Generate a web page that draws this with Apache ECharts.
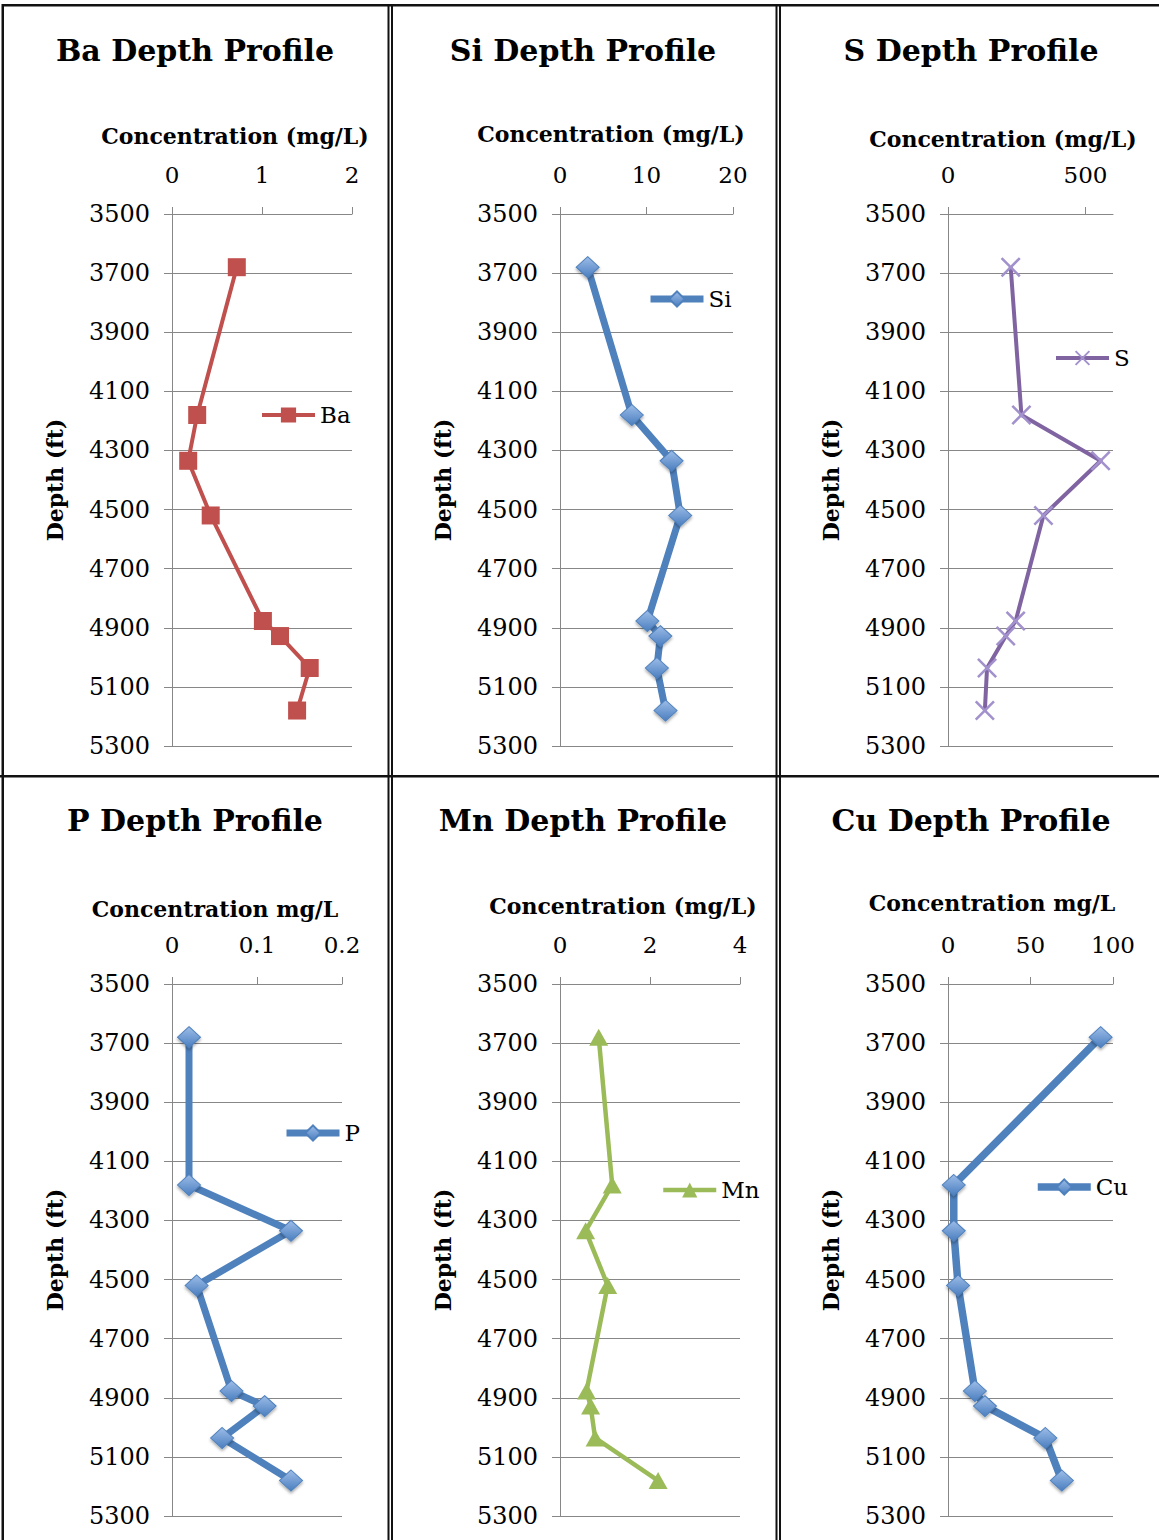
<!DOCTYPE html>
<html>
<head>
<meta charset="utf-8">
<title>Depth Profiles</title>
<script src="https://cdn.jsdelivr.net/npm/echarts@6/dist/echarts.min.js"></script>
<style>
  html, body { margin: 0; padding: 0; background: #ffffff; }
  #chart { width: 1159px; height: 1540px; }
</style>
</head>
<body>
<div id="chart"></div>
<script>
// Sample depths (ft), shared by every element profile
const depthFt = [3680, 4180, 4335, 4520, 4877, 4928, 5036, 5180];

// Concentrations at each depth
const baValues = [0.72, 0.28, 0.18, 0.43, 1.01, 1.20, 1.53, 1.39];
const siValues = [3.2, 8.3, 12.9, 13.9, 10.1, 11.6, 11.2, 12.2];
const sValues  = [228, 267, 555, 347, 246, 210, 142, 134];
const pValues  = [0.020, 0.020, 0.140, 0.029, 0.070, 0.109, 0.059, 0.140];
const mnValues = [0.86, 1.16, 0.57, 1.06, 0.59, 0.68, 0.78, 2.18];
const cuValues = [92.5, 3.5, 3.5, 6.1, 16.3, 22.4, 59, 69];

// Axis labelling
const depthTicks = { min: 3500, max: 5300, interval: 200 };
const chartTitles = ['Ba Depth Profile', 'Si Depth Profile', 'S Depth Profile',
                     'P Depth Profile', 'Mn Depth Profile', 'Cu Depth Profile'];
const unitLabels = ['Concentration (mg/L)', 'Concentration (mg/L)', 'Concentration (mg/L)',
                    'Concentration mg/L', 'Concentration (mg/L)', 'Concentration mg/L'];
const depthLabel = 'Depth (ft)';

const SERIF = '"DejaVu Serif", "Liberation Serif", serif';
const GRID_GRAY = '#878787';

const diamondFill = {
  type: 'linear', x: 0, y: 0, x2: 0, y2: 1,
  colorStops: [{ offset: 0, color: '#9DBDE8' }, { offset: 1, color: '#4A7EBF' }]
};
const crossPath = 'path://M0,0.9 L0.9,0 L10,9.1 L9.1,10 Z M9.1,0 L10,0.9 L0.9,10 L0,9.1 Z';

// One entry per panel: series, axis range and drawing style
const panels = [
  { name: 'Ba', values: baValues, max: 2, interval: 1,
    color: '#C0504D', lineWidth: 4, symbol: 'rect', symbolSize: 18,
    itemStyle: { color: '#C0504D' } },
  { name: 'Si', values: siValues, max: 20, interval: 10,
    color: '#4F81BD', lineWidth: 7, symbol: 'diamond', symbolSize: [23, 21],
    itemStyle: { color: diamondFill, borderColor: '#4F81BD', borderWidth: 1,
                 shadowBlur: 3, shadowColor: 'rgba(0,0,0,0.35)', shadowOffsetY: 2 } },
  { name: 'S', values: sValues, max: 600, interval: 500, ticks: [0, 500],
    color: '#8064A2', lineWidth: 4, symbol: crossPath, symbolSize: 20,
    itemStyle: { color: '#A291CC' } },
  { name: 'P', values: pValues, max: 0.2, interval: 0.1,
    color: '#4F81BD', lineWidth: 7, symbol: 'diamond', symbolSize: [23, 21],
    itemStyle: { color: diamondFill, borderColor: '#4F81BD', borderWidth: 1,
                 shadowBlur: 3, shadowColor: 'rgba(0,0,0,0.35)', shadowOffsetY: 2 } },
  { name: 'Mn', values: mnValues, max: 4, interval: 2,
    color: '#9BBB59', lineWidth: 4.5, symbol: 'triangle', symbolSize: [19, 17],
    itemStyle: { color: '#9BBB59' } },
  { name: 'Cu', values: cuValues, max: 100, interval: 50,
    color: '#4F81BD', lineWidth: 7.5, symbol: 'diamond', symbolSize: [23, 21],
    itemStyle: { color: diamondFill, borderColor: '#4F81BD', borderWidth: 1,
                 shadowBlur: 3, shadowColor: 'rgba(0,0,0,0.35)', shadowOffsetY: 2 } }
];

// Page placement of each panel's pieces
const layout = [
  { grid: [172, 214, 180], title: [195, 50],  unit: [235, 136], yName: [55, 480],   legend: [260, 415] },
  { grid: [560, 214, 173], title: [583, 50],  unit: [611, 134], yName: [443, 480],  legend: [647, 299] },
  { grid: [948, 214, 165], title: [971, 50],  unit: [1003, 139], yName: [831, 480], legend: [1054, 358] },
  { grid: [172, 984, 170], title: [195, 820], unit: [215, 909], yName: [55, 1250],  legend: [283, 1133] },
  { grid: [560, 984, 180], title: [583, 820], unit: [623, 906], yName: [443, 1250], legend: [661, 1190] },
  { grid: [948, 984, 165], title: [971, 820], unit: [992, 903], yName: [831, 1250], legend: [1034, 1187] }
];
const PLOT_HEIGHT = 532;

const grids = [], xAxes = [], yAxes = [], series = [], legends = [], graphics = [];

panels.forEach((p, i) => {
  const L = layout[i];
  grids.push({ left: L.grid[0], top: L.grid[1], width: L.grid[2], height: PLOT_HEIGHT, containLabel: false });

  const xAxis = {
    type: 'value', gridIndex: i, position: 'top',
    min: 0, max: p.max, interval: p.interval,
    axisLine: { show: true, lineStyle: { color: GRID_GRAY, width: 1 } },
    axisTick: { show: true, inside: false, length: 7, lineStyle: { color: GRID_GRAY } },
    axisLabel: { color: '#000', fontFamily: SERIF, fontSize: 23, margin: 28 },
    splitLine: { show: false }
  };
  if (p.ticks) {
    xAxis.axisLabel.customValues = p.ticks;
    xAxis.axisTick.customValues = p.ticks;
  }
  xAxes.push(xAxis);

  yAxes.push({
    type: 'value', gridIndex: i, inverse: true,
    min: depthTicks.min, max: depthTicks.max, interval: depthTicks.interval,
    axisLine: { show: true, lineStyle: { color: GRID_GRAY, width: 1 } },
    axisTick: { show: true, inside: false, length: 8, lineStyle: { color: GRID_GRAY } },
    axisLabel: { color: '#000', fontFamily: SERIF, fontSize: 24, margin: 22,
                 formatter: v => String(v) },
    splitLine: { show: true, lineStyle: { color: GRID_GRAY, width: 1 } }
  });

  series.push({
    name: p.name, type: 'line',
    xAxisIndex: i, yAxisIndex: i,
    data: p.values.map((v, k) => [v, depthFt[k]]),
    symbol: p.symbol, symbolSize: p.symbolSize,
    showSymbol: true, smooth: false, animation: false,
    lineStyle: { color: p.color, width: p.lineWidth, join: 'round' },
    itemStyle: p.itemStyle,
    color: p.color,
    emphasis: { disabled: true }
  });

  legends.push({
    data: [p.name],
    left: L.legend[0], top: L.legend[1] - 12,
    padding: 0, itemWidth: 53, itemHeight: 19, itemGap: 0,
    lineStyle: { width: p.lineWidth, color: p.color },
    textStyle: { color: '#000', fontFamily: SERIF, fontSize: 23, lineHeight: 24 },
    selectedMode: false
  });

  graphics.push({
    type: 'text', x: L.title[0], y: L.title[1],
    style: { text: chartTitles[i], font: 'bold 30px ' + SERIF, fill: '#000', align: 'center', verticalAlign: 'middle' }
  });
  graphics.push({
    type: 'text', x: L.unit[0], y: L.unit[1],
    style: { text: unitLabels[i], font: 'bold 22px ' + SERIF, fill: '#000', align: 'center', verticalAlign: 'middle' }
  });
  graphics.push({
    type: 'text', x: L.yName[0], y: L.yName[1], rotation: Math.PI / 2,
    style: { text: depthLabel, font: 'bold 22px ' + SERIF, fill: '#000', align: 'center', verticalAlign: 'middle' }
  });
});

// Panel frames
const frames = [
  [2, 4, 1157, 2.5],      // top edge
  [0, 775, 1159, 2.5],    // row divider
  [1.5, 4, 2.5, 1536],    // left edge
  [387.5, 4, 2, 1536], [391, 4, 2, 1536],
  [775.5, 4, 2, 1536], [779, 4, 2, 1536]
];
frames.forEach(f => graphics.push({
  type: 'rect', silent: true, z: 100,
  shape: { x: f[0], y: f[1], width: f[2], height: f[3] },
  style: { fill: '#111' }
}));

const chart = echarts.init(document.getElementById('chart'), null, { renderer: 'svg' });
chart.setOption({
  animation: false,
  backgroundColor: '#ffffff',
  grid: grids,
  xAxis: xAxes,
  yAxis: yAxes,
  legend: legends,
  series: series,
  graphic: graphics
});
</script>
</body>
</html>
